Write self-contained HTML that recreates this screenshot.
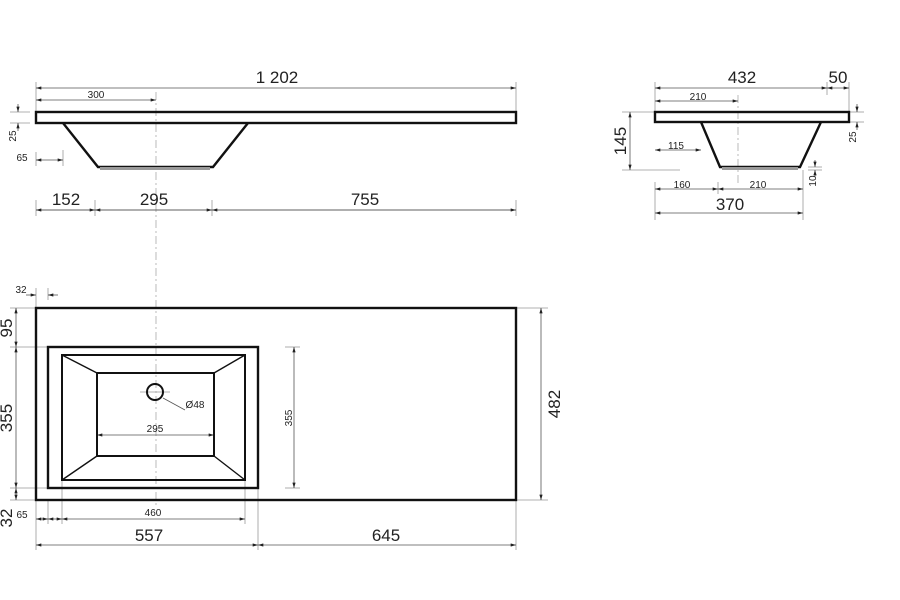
<!DOCTYPE html>
<html><head><meta charset="utf-8"><style>body{margin:0;background:#fff}svg{display:block}text{font-family:"Liberation Sans",sans-serif;fill:#222}</style></head><body>
<svg width="900" height="600" viewBox="0 0 900 600" xmlns="http://www.w3.org/2000/svg">
<defs><marker id="a" viewBox="0 0 10 6" refX="10" refY="3" markerWidth="7" markerHeight="4" orient="auto-start-reverse"><path d="M0,0L10,3L0,6z" fill="#222"/></marker></defs>
<g stroke="#999" stroke-width="0.8" fill="none">
<!-- extension lines -->
<line x1="36" y1="82" x2="36" y2="112"/><line x1="516" y1="82" x2="516" y2="112"/>
<line x1="36" y1="200" x2="36" y2="216"/><line x1="95" y1="200" x2="95" y2="216"/><line x1="212" y1="200" x2="212" y2="216"/><line x1="516" y1="200" x2="516" y2="216"/>
<line x1="36" y1="152" x2="36" y2="166"/><line x1="63" y1="150" x2="63" y2="166"/>
<line x1="10" y1="112" x2="30" y2="112"/><line x1="10" y1="123" x2="30" y2="123"/>
<line x1="655" y1="82" x2="655" y2="112"/><line x1="827" y1="82" x2="827" y2="95"/><line x1="849" y1="82" x2="849" y2="112"/>
<line x1="622" y1="112" x2="655" y2="112"/><line x1="622" y1="170" x2="680" y2="170"/>
<line x1="655" y1="182" x2="655" y2="220"/><line x1="718" y1="182" x2="718" y2="194"/><line x1="803" y1="170" x2="803" y2="220"/>
<line x1="850" y1="112" x2="864" y2="112"/><line x1="850" y1="122" x2="864" y2="122"/>
<line x1="808" y1="167" x2="822" y2="167"/><line x1="808" y1="170" x2="822" y2="170"/>
<line x1="10" y1="308" x2="36" y2="308"/><line x1="10" y1="347" x2="48" y2="347"/><line x1="10" y1="488" x2="48" y2="488"/><line x1="10" y1="500" x2="36" y2="500"/>
<line x1="36" y1="500" x2="36" y2="550"/><line x1="258" y1="488" x2="258" y2="550"/><line x1="516" y1="500" x2="516" y2="550"/>
<line x1="48" y1="288" x2="48" y2="300"/><line x1="36" y1="288" x2="36" y2="308"/>
<line x1="62" y1="480" x2="62" y2="524"/><line x1="245" y1="480" x2="245" y2="524"/><line x1="48" y1="500" x2="48" y2="524"/>
<line x1="285" y1="347" x2="300" y2="347"/><line x1="285" y1="488" x2="300" y2="488"/>
<line x1="516" y1="308" x2="548" y2="308"/><line x1="516" y1="500" x2="548" y2="500"/>
<line x1="140" y1="392" x2="170" y2="392"/>
</g>
<g stroke="#aaa" stroke-width="0.8" stroke-dasharray="8,3,2,3" fill="none">
<line x1="156" y1="92" x2="156" y2="505"/><line x1="738" y1="95" x2="738" y2="185"/>
</g>
<g stroke="#555" stroke-width="0.8" fill="none">
<line x1="36" y1="88" x2="516" y2="88" marker-start="url(#a)" marker-end="url(#a)"/>
<line x1="36" y1="100" x2="156" y2="100" marker-start="url(#a)" marker-end="url(#a)"/>
<line x1="36" y1="160" x2="63" y2="160" marker-start="url(#a)" marker-end="url(#a)"/>
<line x1="18" y1="104" x2="18" y2="112" marker-end="url(#a)"/><line x1="18" y1="131" x2="18" y2="123" marker-end="url(#a)"/>
<line x1="36" y1="210" x2="516" y2="210"/>
<line x1="36" y1="210" x2="95" y2="210" marker-start="url(#a)" marker-end="url(#a)"/>
<line x1="95" y1="210" x2="212" y2="210" marker-start="url(#a)" marker-end="url(#a)"/>
<line x1="212" y1="210" x2="516" y2="210" marker-start="url(#a)" marker-end="url(#a)"/>
<line x1="655" y1="88" x2="827" y2="88" marker-start="url(#a)" marker-end="url(#a)"/>
<line x1="827" y1="88" x2="849" y2="88" marker-start="url(#a)" marker-end="url(#a)"/>
<line x1="655" y1="101" x2="738" y2="101" marker-start="url(#a)" marker-end="url(#a)"/>
<line x1="630" y1="112" x2="630" y2="170" marker-start="url(#a)" marker-end="url(#a)"/>
<line x1="655" y1="150" x2="701" y2="150" marker-start="url(#a)" marker-end="url(#a)"/>
<line x1="655" y1="189" x2="718" y2="189" marker-start="url(#a)" marker-end="url(#a)"/>
<line x1="718" y1="189" x2="803" y2="189" marker-start="url(#a)" marker-end="url(#a)"/>
<line x1="655" y1="213" x2="803" y2="213" marker-start="url(#a)" marker-end="url(#a)"/>
<line x1="857" y1="104" x2="857" y2="112" marker-end="url(#a)"/><line x1="857" y1="130" x2="857" y2="122" marker-end="url(#a)"/>
<line x1="815" y1="160" x2="815" y2="167" marker-end="url(#a)"/><line x1="815" y1="177" x2="815" y2="170" marker-end="url(#a)"/>
<line x1="26" y1="295" x2="36" y2="295" marker-end="url(#a)"/><line x1="58" y1="295" x2="48" y2="295" marker-end="url(#a)"/>
<line x1="16" y1="308" x2="16" y2="347" marker-start="url(#a)" marker-end="url(#a)"/>
<line x1="16" y1="347" x2="16" y2="488" marker-start="url(#a)" marker-end="url(#a)"/>
<line x1="16" y1="488" x2="16" y2="500" marker-start="url(#a)" marker-end="url(#a)"/>
<line x1="97" y1="435" x2="214" y2="435" marker-start="url(#a)" marker-end="url(#a)"/>
<line x1="294" y1="347" x2="294" y2="488" marker-start="url(#a)" marker-end="url(#a)"/>
<line x1="541" y1="308" x2="541" y2="500" marker-start="url(#a)" marker-end="url(#a)"/>
<line x1="36" y1="519" x2="48" y2="519" marker-start="url(#a)" marker-end="url(#a)"/>
<line x1="48" y1="519" x2="62" y2="519" marker-start="url(#a)" marker-end="url(#a)"/>
<line x1="62" y1="519" x2="245" y2="519" marker-start="url(#a)" marker-end="url(#a)"/>
<line x1="36" y1="545" x2="258" y2="545" marker-start="url(#a)" marker-end="url(#a)"/>
<line x1="258" y1="545" x2="516" y2="545" marker-start="url(#a)" marker-end="url(#a)"/>
<line x1="163" y1="398" x2="185" y2="410"/>
</g>
<g stroke="#111" stroke-width="2.4" fill="none">
<rect x="36" y="112" width="480" height="11"/>
<polyline points="63,123 98,167 213,167 248,123"/>
<rect x="655" y="112" width="194" height="10"/>
<polyline points="701,122 720,167 800,167 821,122"/>
<rect x="36" y="308" width="480" height="192"/>
<rect x="48" y="347" width="210" height="141"/>
<rect x="62" y="355" width="183" height="125" stroke-width="2"/>
<rect x="97" y="373" width="117" height="83" stroke-width="2"/>
<circle cx="155" cy="392" r="8" stroke-width="2"/>
</g>
<g stroke="#111" stroke-width="1.4"><line x1="62" y1="355" x2="97" y2="373"/><line x1="245" y1="355" x2="214" y2="373"/><line x1="62" y1="480" x2="97" y2="456"/><line x1="245" y1="480" x2="214" y2="456"/></g>
<rect x="100" y="167" width="110" height="3" fill="#999"/>
<rect x="722" y="167" width="76" height="3" fill="#999"/>
<g font-size="17" text-anchor="middle">
<text x="277" y="83">1 202</text>
<text x="66" y="205">152</text><text x="154" y="205">295</text><text x="365" y="205">755</text>
<text x="742" y="83">432</text><text x="838" y="83">50</text>
<text x="730" y="210">370</text>
<text x="149" y="541">557</text><text x="386" y="541">645</text>
<text transform="translate(626,141) rotate(-90)">145</text>
<text transform="translate(12,328) rotate(-90)">95</text>
<text transform="translate(12,418) rotate(-90)">355</text>
<text transform="translate(12,518) rotate(-90)">32</text>
<text transform="translate(560,404) rotate(-90)">482</text>
</g>
<g font-size="10" text-anchor="middle">
<text x="96" y="98">300</text><text x="22" y="161">65</text>
<text transform="translate(16,136) rotate(-90)">25</text>
<text x="698" y="100">210</text><text x="676" y="149">115</text>
<text x="682" y="188">160</text><text x="758" y="188">210</text>
<text transform="translate(856,137) rotate(-90)">25</text>
<text transform="translate(816,181) rotate(-90)">10</text>
<text x="21" y="293">32</text>
<text x="195" y="408">Ø48</text><text x="155" y="432">295</text>
<text transform="translate(292,418) rotate(-90)">355</text>
<text x="153" y="516">460</text><text x="22" y="518">65</text>
</g>
</svg>
</body></html>
